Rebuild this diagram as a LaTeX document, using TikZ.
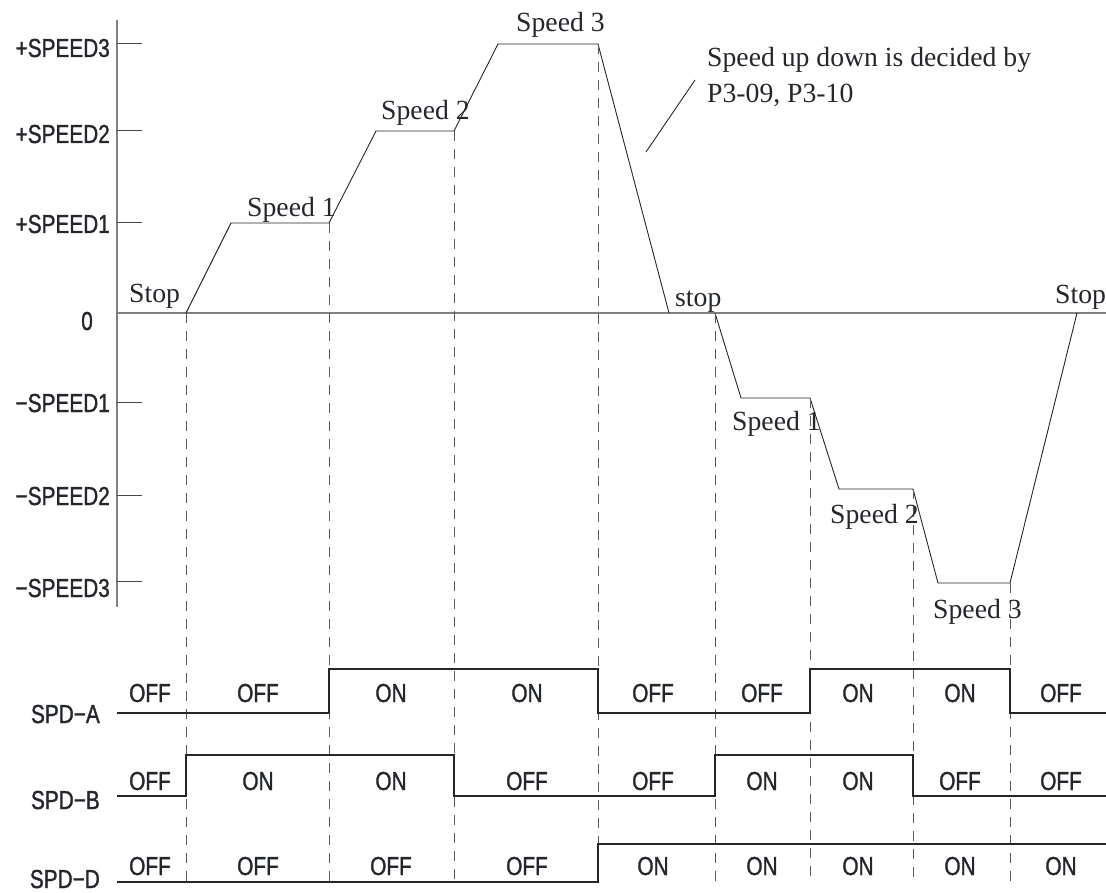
\documentclass[tikz,border=0pt]{standalone}
\usepackage{fontspec}
\setmainfont{Liberation Serif}
\newfontfamily\labfont[FakeStretch=0.8,FakeBold=1.2]{Liberation Sans}
\definecolor{axisgray}{HTML}{808080}
\definecolor{ink}{HTML}{23262B}
\definecolor{dashgray}{HTML}{5A5A5A}
\tikzset{
  axisline/.style={draw=axisgray, line width=1.4pt},
  tickline/.style={draw=ink!85, line width=1pt},
  profile/.style={draw=ink, line width=0.9pt, line join=miter},
  guide/.style={draw=dashgray, line width=0.9pt, dash pattern=on 10pt off 8pt},
  sig/.style={draw=ink, line width=1.3pt},
  serif/.style={inner sep=0pt, font=\fontsize{27.7}{33}\selectfont, text=ink},
  lab/.style={inner sep=0pt, font=\labfont\fontsize{26}{30}\selectfont, text=ink},
}
\begin{document}
\begin{tikzpicture}[x=1pt,y=-1pt]
\useasboundingbox (0,0) rectangle (1106,893);

% ---- axes ----
\coordinate (axtop) at (117,20);
\coordinate (axbot) at (117,607);
\coordinate (zl) at (117,313);
\coordinate (zr) at (1106,313);
\draw[axisline] (axtop) -- (axbot);
\draw[axisline] (zl) -- (zr);

% ticks and tick labels
\foreach \n/\y/\t/\b in {p3/44/+SPEED3/57, p2/131/+SPEED2/143, p1/223/+SPEED1/233,
                         m1/402/−SPEED1/412, m2/495/−SPEED2/505, m3/581/−SPEED3/597}{
  \coordinate (tk\n a) at (117,\y);
  \coordinate (tk\n b) at (142,\y);
  \draw[tickline] (tk\n a) -- (tk\n b);
  \node[lab, anchor=base east] (tl\n) at (110,\b) {\t};
}
\node[lab, anchor=base east] (tlzero) at (93,330) {0};

% ---- speed profile ----
\coordinate (s0) at (186,313);
\coordinate (s1) at (231,223);
\coordinate (s2) at (329,223);
\coordinate (s3) at (376,131);
\coordinate (s4) at (454,131);
\coordinate (s5) at (498,44);
\coordinate (s6) at (598,44);
\coordinate (s7) at (669,313);
\coordinate (n0) at (715,313);
\coordinate (n1) at (741,398);
\coordinate (n2) at (810,398);
\coordinate (n3) at (839,489);
\coordinate (n4) at (913,489);
\coordinate (n5) at (938,583);
\coordinate (n6) at (1010,583);
\coordinate (n7) at (1077,313);
\draw[profile] (s0) -- (s1) -- (s2) -- (s3) -- (s4) -- (s5) -- (s6) -- (s7);
\draw[profile] (n0) -- (n1) -- (n2) -- (n3) -- (n4) -- (n5) -- (n6) -- (n7);

% ---- guide dashed lines ----
\foreach \p/\x in {s0/186, s2/329, s4/454, s6/598, n0/715, n2/810, n4/913, n6/1010}{
  \coordinate (g\p) at (\x,883);
  \draw[guide] (\p) -- (g\p);
}

% ---- profile labels ----
\node[serif, anchor=base west] (stopa) at (129,303) {Stop};
\node[serif, anchor=base west] (sp1) at (247,217) {Speed 1};
\node[serif, anchor=base west] (sp2) at (381,120) {Speed 2};
\node[serif, anchor=base west] (sp3) at (516,32) {Speed 3};
\node[serif, anchor=base west] (stopb) at (675,307) {stop};
\node[serif, anchor=base west] (stopc) at (1055,304) {Stop};
\node[serif, anchor=base west] (sn1) at (732,430) {Speed 1};
\node[serif, anchor=base west] (sn2) at (830,523) {Speed 2};
\node[serif, anchor=base west] (sn3) at (933,618) {Speed 3};

% annotation
\node[serif, anchor=base west] (note1) at (707,67) {Speed up down is decided by};
\node[serif, anchor=base west] (note2) at (707,103) {P3-09, P3-10};
\coordinate (leadA) at (695,80);
\coordinate (leadB) at (646,152);
\draw[profile] (leadA) -- (leadB);

% ---- switching signals ----
\node[lab, anchor=base east] (spda) at (100,723) {SPD−A};
\node[lab, anchor=base east] (spdb) at (100,809) {SPD−B};
\node[lab, anchor=base east] (spdd) at (100,888) {SPD−D};

\draw[sig] (117,713) -- (329,713) -- (329,669) -- (598,669) -- (598,713)
  -- (810,713) -- (810,669) -- (1010,669) -- (1010,713) -- (1106,713);
\draw[sig] (117,796) -- (186,796) -- (186,755) -- (454,755) -- (454,796)
  -- (715,796) -- (715,755) -- (913,755) -- (913,796) -- (1106,796);
\draw[sig] (117,882) -- (598,882) -- (598,844) -- (1106,844);

\foreach \i/\x/\a/\b/\d in {1/150/OFF/OFF/OFF, 2/258/OFF/ON/OFF, 3/391/ON/ON/OFF,
    4/527/ON/OFF/OFF, 5/653/OFF/OFF/ON, 6/762/OFF/ON/ON, 7/858/ON/ON/ON,
    8/960/ON/OFF/ON, 9/1061/OFF/OFF/ON}{
  \node[lab, anchor=base] (ta\i) at (\x,702) {\a};
  \node[lab, anchor=base] (tb\i) at (\x,790) {\b};
  \node[lab, anchor=base] (td\i) at (\x,875) {\d};
}
\end{tikzpicture}
\end{document}
